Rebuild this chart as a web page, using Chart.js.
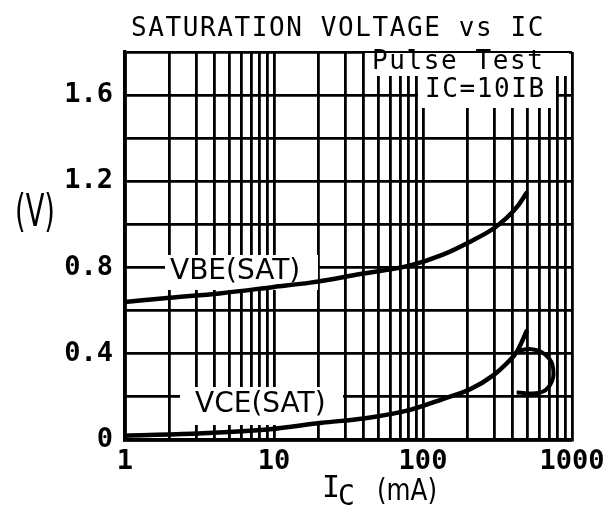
<!DOCTYPE html>
<html>
<head>
<meta charset="utf-8">
<script src="https://cdn.jsdelivr.net/npm/chart.js@4.4.1/dist/chart.umd.min.js"></script>
<style>
  html, body { margin: 0; padding: 0; background: #fff; }
  #wrap { width: 614px; height: 510px; }
</style>
</head>
<body>
<div id="wrap"><canvas id="chart" width="614" height="510"></canvas></div>
<script>
// ---------------------------------------------------------------------------
// Data
// ---------------------------------------------------------------------------
const xGrid = [1, 2, 3, 4, 5, 6, 7, 8, 9, 10, 20, 30, 40, 50, 60, 70, 80, 90,
  100, 200, 300, 400, 500, 600, 700, 800, 900, 1000];
const xLabels = [1, 10, 100, 1000];
const yGrid = [0, 0.2, 0.4, 0.6, 0.8, 1.0, 1.2, 1.4, 1.6, 1.8];
const yLabels = [0, 0.4, 0.8, 1.2, 1.6];

// VBE(SAT) vs IC (mA)
const vbeIc = [1, 2, 4.3, 10, 17.5, 38, 82, 136, 207, 296, 364, 437, 500];
const vbeV = [0.64, 0.66, 0.68, 0.71, 0.73, 0.77, 0.81, 0.86, 0.92, 0.98, 1.03, 1.09, 1.15];

// VCE(SAT) vs IC (mA)
const vceIc = [1, 3, 9.4, 21, 40, 82, 136, 207, 296, 364, 427, 500];
const vceV = [0.02, 0.03, 0.05, 0.08, 0.10, 0.14, 0.19, 0.235, 0.30, 0.355, 0.41, 0.51];

// the curl printed at the end of the VCE curve
const loopIc = [414, 448, 550, 675, 748, 712, 610, 425];
const loopV = [0.40, 0.415, 0.42, 0.39, 0.33, 0.255, 0.22, 0.22];

const pts = (xs, ys) => xs.map((x, i) => ({ x, y: ys[i] }));

// ---------------------------------------------------------------------------
// Text helpers
// ---------------------------------------------------------------------------
const MONO = '"DejaVu Sans Mono", monospace';
const SANS = '"DejaVu Sans", sans-serif';

function txt(ctx, s, x, y, o) {
  ctx.save();
  ctx.font = o.font;
  ctx.fillStyle = "#000";
  ctx.textAlign = o.align || "left";
  ctx.textBaseline = o.base || "middle";
  ctx.letterSpacing = o.ls || "0px";
  ctx.translate(x, y);
  ctx.scale(o.sx || 1, 1);
  ctx.fillText(s, 0, 0);
  ctx.restore();
}

function whiteBox(ctx, x0, y0, x1, y1) {
  ctx.save();
  ctx.fillStyle = "#fff";
  ctx.fillRect(x0, y0, x1 - x0, y1 - y0);
  ctx.restore();
}

const annotations = {
  id: "annotations",
  beforeDatasetsDraw(chart) {
    const ctx = chart.ctx;
    // boxes over the grid behind the printed labels
    whiteBox(ctx, 365, 53, 569, 76);
    whiteBox(ctx, 418, 76, 556, 108);
    whiteBox(ctx, 165, 255, 318, 290);
    whiteBox(ctx, 180, 387, 343, 425);

    txt(ctx, "Pulse Test", 372, 62, { font: "26px " + MONO, ls: "1.6px" });
    txt(ctx, "IC=10IB", 425, 90, { font: "26px " + MONO, ls: "1.6px" });
    txt(ctx, "VBE(SAT)", 170, 272, { font: "28px " + SANS });
    txt(ctx, "VCE(SAT)", 195, 405, { font: "28px " + SANS });
  },
  afterDraw(chart) {
    const ctx = chart.ctx;
    txt(ctx, "SATURATION VOLTAGE vs IC", 131, 29, { font: "26px " + MONO, ls: "1.6px" });
    txt(ctx, "(V)", 35, 215, { font: "44px " + SANS, align: "center", sx: 0.62 });
    txt(ctx, "I", 322, 497, { font: "30px " + MONO, base: "alphabetic" });
    txt(ctx, "C", 338, 505, { font: "28px " + MONO, base: "alphabetic" });
    txt(ctx, "(mA)", 377, 500, { font: "30px " + SANS, base: "alphabetic", sx: 0.82 });
  }
};

// ---------------------------------------------------------------------------
// Chart
// ---------------------------------------------------------------------------
const curve = {
  borderColor: "#000",
  borderWidth: 4.5,
  pointRadius: 0,
  fill: false,
  tension: 0.35,
};

const tickFont = { family: "DejaVu Sans Mono", size: 27, weight: "bold" };

new Chart(document.getElementById("chart"), {
  type: "line",
  data: {
    datasets: [
      { ...curve, label: "VBE(SAT)", data: pts(vbeIc, vbeV), cubicInterpolationMode: "monotone" },
      { ...curve, label: "VCE(SAT)", data: pts(vceIc, vceV), cubicInterpolationMode: "monotone" },
      { ...curve, label: "curl", data: pts(loopIc, loopV), borderWidth: 4, tension: 0.45 },
    ]
  },
  options: {
    responsive: false,
    animation: false,
    events: [],
    layout: { padding: { left: 0, right: 42, top: 52, bottom: 0 } },
    plugins: { legend: { display: false }, tooltip: { enabled: false }, title: { display: false } },
    scales: {
      x: {
        type: "logarithmic",
        min: 1,
        max: 1000,
        afterBuildTicks: s => { s.ticks = xGrid.map(v => ({ value: v })); },
        afterFit: s => { s.height = 70; },
        ticks: {
          autoSkip: false, maxRotation: 0, minRotation: 0, padding: 6,
          color: "#000", font: tickFont,
          callback: v => xLabels.includes(v) ? String(v) : ""
        },
        grid: { color: "#000", lineWidth: 2.8, drawTicks: false },
        border: { color: "#000", width: 3.5 }
      },
      y: {
        min: 0,
        max: 1.8,
        afterBuildTicks: s => { s.ticks = yGrid.map(v => ({ value: v })); },
        afterFit: s => { s.width = 125; },
        ticks: {
          padding: 12,
          color: "#000", font: tickFont,
          callback: v => yLabels.includes(v) ? (v === 0 ? "0" : v.toFixed(1)) : ""
        },
        grid: { color: "#000", lineWidth: 2.8, drawTicks: false },
        border: { color: "#000", width: 3.5 }
      }
    }
  },
  plugins: [annotations]
});
</script>
</body>
</html>
